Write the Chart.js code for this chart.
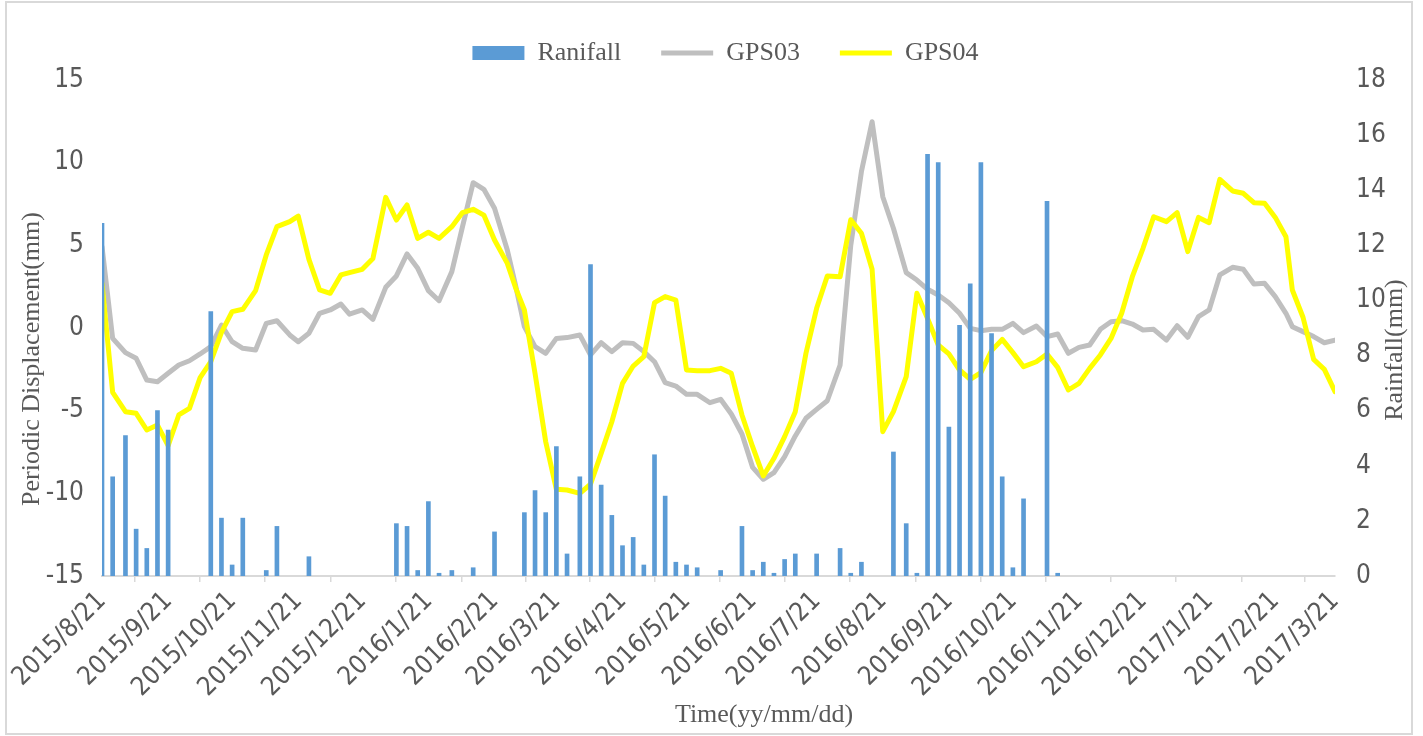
<!DOCTYPE html>
<html>
<head>
<meta charset="utf-8">
<title>Periodic displacement and rainfall</title>
<script src="https://cdn.jsdelivr.net/npm/chart.js@4.4.0/dist/chart.umd.min.js"></script>
<style>
  html, body { margin: 0; padding: 0; background: #fff; }
  #wrap { width: 1423px; height: 736px; position: relative; }
</style>
</head>
<body>
<div id="wrap"><canvas id="chart"></canvas></div>
<script>
// Data

const tickLabels = ['2015/8/21', '2015/9/21', '2015/10/21', '2015/11/21', '2015/12/21',
  '2016/1/21', '2016/2/21', '2016/3/21', '2016/4/21', '2016/5/21', '2016/6/21',
  '2016/7/21', '2016/8/21', '2016/9/21', '2016/10/21', '2016/11/21', '2016/12/21',
  '2017/1/21', '2017/2/21', '2017/3/21'];

// days after 2015/8/21 for each sample
const days = [
  0, 5, 11, 16, 21, 26, 31, 36, 41, 46,
  51, 56, 61, 66, 72, 77, 82, 88, 92, 97,
  102, 107, 112, 116, 122, 127, 133, 138, 143, 148,
  153, 158, 164, 169, 174, 179, 184, 190, 194, 198,
  203, 208, 213, 218, 224, 229, 234, 239, 244, 249,
  254, 259, 264, 269, 274, 279, 285, 290, 295, 300,
  305, 310, 315, 320, 325, 330, 335, 340, 346, 351,
  356, 361, 366, 371, 377, 382, 387, 392, 397, 402,
  407, 412, 417, 422, 427, 432, 438, 443, 448, 453,
  458, 463, 468, 473, 478, 483, 488, 493, 499, 504,
  509, 514, 519, 524, 530, 535, 540, 545, 550, 555,
  558, 563, 568, 573, 578
];

const rainfall = [
  12.8, 3.6, 5.1, 1.7, 1.0, 6.0, 5.3, 0, 0, 0,
  9.6, 2.1, 0.4, 2.1, 0, 0.2, 1.8, 0, 0, 0.7,
  0, 0, 0, 0, 0, 0, 0, 1.9, 1.8, 0.2,
  2.7, 0.1, 0.2, 0, 0.3, 0, 1.6, 0, 0, 2.3,
  3.1, 2.3, 4.7, 0.8, 3.6, 11.3, 3.3, 2.2, 1.1, 1.4,
  0.4, 4.4, 2.9, 0.5, 0.4, 0.3, 0, 0.2, 0, 1.8,
  0.2, 0.5, 0.1, 0.6, 0.8, 0, 0.8, 0, 1.0, 0.1,
  0.5, 0, 0, 4.5, 1.9, 0.1, 15.3, 15.0, 5.4, 9.1,
  10.6, 15.0, 8.8, 3.6, 0.3, 2.8, 0, 13.6, 0.1, 0,
  0, 0, 0, 0, 0, 0, 0, 0, 0, 0,
  0, 0, 0, 0, 0, 0, 0, 0, 0, 0,
  0, 0, 0, 0, 0
];

const gps03 = [
  4.92, -0.63, -1.49, -1.83, -3.15, -3.25, -2.74, -2.24, -1.98, -1.57,
  -1.13, 0.18, -0.83, -1.23, -1.33, 0.28, 0.44, -0.42, -0.83, -0.32,
  0.89, 1.09, 1.45, 0.84, 1.09, 0.52, 2.46, 3.15, 4.48, 3.61,
  2.26, 1.65, 3.41, 6.13, 8.79, 8.39, 7.24, 4.72, 2.50, 0.08,
  -1.13, -1.53, -0.63, -0.58, -0.42, -1.63, -0.89, -1.43, -0.89, -0.93,
  -1.43, -2.04, -3.31, -3.51, -4.01, -4.01, -4.52, -4.31, -5.20, -6.41,
  -8.43, -9.15, -8.75, -7.78, -6.53, -5.46, -4.92, -4.40, -2.24, 5.0,
  9.46, 12.48, 7.94, 6.03, 3.35, 2.90, 2.34, 2.00, 1.53, 0.89,
  -0.02, -0.16, -0.08, -0.08, 0.28, -0.28, 0.12, -0.52, -0.36, -1.53,
  -1.17, -1.03, -0.08, 0.38, 0.44, 0.24, -0.12, -0.08, -0.73, 0.14,
  -0.56, 0.69, 1.09, 3.21, 3.67, 3.55, 2.66, 2.70, 1.90, 0.89,
  0.08, -0.22, -0.52, -0.89, -0.73
];

const gps04 = [
  2.70, -3.89, -5.06, -5.16, -6.17, -5.87, -7.12, -5.26, -4.86, -3.00,
  -2.04, -0.26, 0.99, 1.13, 2.26, 4.42, 6.13, 6.43, 6.77, 4.15,
  2.30, 2.10, 3.21, 3.35, 3.55, 4.21, 7.90, 6.53, 7.44, 5.42,
  5.79, 5.42, 6.13, 6.98, 7.18, 6.83, 5.32, 3.91, 2.40, 1.09,
  -2.74, -6.88, -9.76, -9.80, -10.0, -9.45, -7.58, -5.67, -3.35, -2.30,
  -1.73, 1.53, 1.90, 1.69, -2.54, -2.58, -2.58, -2.44, -2.74, -5.26,
  -7.18, -8.95, -7.88, -6.57, -5.06, -1.53, 1.19, 3.15, 3.10, 6.55,
  5.73, 3.55, -6.27, -5.06, -2.94, 2.10, 0.58, -1.03, -1.57, -2.54,
  -3.10, -2.70, -1.37, -0.69, -1.49, -2.34, -2.04, -1.57, -2.38, -3.75,
  -3.35, -2.44, -1.63, -0.63, 0.89, 3.10, 4.82, 6.73, 6.43, 6.98,
  4.62, 6.69, 6.37, 8.99, 8.29, 8.15, 7.58, 7.54, 6.69, 5.52,
  2.30, 0.65, -1.90, -2.50, -3.85
];

// Tick positions (days after the first label)

const dayMs = 86400000;
const toTime = (s) => {
  const p = s.split('/').map(Number);
  return Date.UTC(p[0], p[1] - 1, p[2]);
};
const startTime = toTime(tickLabels[0]);
const tickDays = tickLabels.map(s => Math.round((toTime(s) - startTime) / dayMs));

// Fonts

const grey = '#595959';
const tickFont = {
  family: "'Liberation Sans Narrow', 'DejaVu Sans Condensed', 'Roboto Condensed', 'Liberation Sans', sans-serif",
  size: 26
};
const serifFamily = "'Liberation Serif', 'Times New Roman', serif";
const serifFont = { family: serifFamily, size: 26 };

// Plugins

const frame = {
  id: 'frame',
  beforeDraw(chart) {
    const ctx = chart.ctx;
    ctx.save();
    ctx.strokeStyle = '#d9d9d9';
    ctx.lineWidth = 2;
    ctx.strokeRect(6, 2, 1406, 732);
    ctx.restore();
  }
};

// legend: fixed height and a small nudge to the right
const legendBox = {
  id: 'legendBox',
  beforeLayout(chart) {
    const lg = chart.legend;
    if (lg && !lg._fixed) {
      const fit = lg.fit;
      lg.fit = function () {
        fit.call(this);
        this.height = 80;
      };
      lg._fixed = true;
    }
  },
  afterLayout(chart) {
    chart.legend.left += 14;
    chart.legend.right += 14;
  }
};

const axisTitles = {
  id: 'axisTitles',
  afterDraw(chart) {
    const ctx = chart.ctx;
    ctx.save();
    ctx.font = '26px ' + serifFamily;
    ctx.fillStyle = grey;
    ctx.textAlign = 'center';
    ctx.textBaseline = 'middle';

    ctx.fillText('Time(yy/mm/dd)', 764, 715);

    ctx.save();
    ctx.translate(32, 359);
    ctx.rotate(-Math.PI / 2);
    ctx.fillText('Periodic Displacement(mm)', 0, 0);
    ctx.restore();

    ctx.save();
    ctx.translate(1395, 350);
    ctx.rotate(-Math.PI / 2);
    ctx.fillText('Rainfall(mm)', 0, 0);
    ctx.restore();

    ctx.restore();
  }
};

// Chart

const rainPoints = days
  .map((d, i) => ({ x: d, y: rainfall[i] }))
  .filter(p => p.y > 0);

const ctx = document.querySelector('#chart');

const chart = new Chart(ctx, {
  type: 'line',
  data: {
    datasets: [{
      type: 'bar',
      label: 'Ranifall',
      data: rainPoints,
      backgroundColor: '#5b9bd5',
      borderWidth: 0,
      barThickness: 4,
      pointStyle: 'rect',
      yAxisID: 'y1',
      order: 0
    }, {
      label: 'GPS03',
      data: days.map((d, i) => ({ x: d, y: gps03[i] })),
      borderColor: '#bfbfbf',
      backgroundColor: '#bfbfbf',
      borderWidth: 5,
      borderCapStyle: 'round',
      borderJoinStyle: 'round',
      pointRadius: 0,
      pointStyle: 'line',
      tension: 0,
      yAxisID: 'y',
      order: 2
    }, {
      label: 'GPS04',
      data: days.map((d, i) => ({ x: d, y: gps04[i] })),
      borderColor: '#ffff00',
      backgroundColor: '#ffff00',
      borderWidth: 5,
      borderCapStyle: 'round',
      borderJoinStyle: 'round',
      pointRadius: 0,
      pointStyle: 'line',
      tension: 0,
      yAxisID: 'y',
      order: 1
    }]
  },
  options: {
    responsive: true,
    maintainAspectRatio: false,
    animation: false,
    devicePixelRatio: 1,
    events: [],
    layout: { padding: 0 },
    scales: {
      x: {
        type: 'linear',
        position: 'bottom',
        min: 0,
        max: tickDays[tickDays.length - 1],
        offset: false,
        grid: {
          display: true,
          drawOnChartArea: false,
          drawTicks: true,
          tickLength: 6,
          color: '#d9d9d9',
          lineWidth: 1.5
        },
        border: { display: true, color: '#d9d9d9', width: 2 },
        ticks: {
          autoSkip: false,
          minRotation: 45,
          maxRotation: 45,
          padding: 4,
          font: tickFont,
          color: grey,
          callback: (value) => {
            const i = tickDays.indexOf(value);
            return i >= 0 ? tickLabels[i] : '';
          }
        },
        afterBuildTicks: (scale) => {
          scale.ticks = tickDays.map(v => ({ value: v }));
        },
        afterFit: (scale) => { scale.height = 160; }
      },
      y: {
        position: 'left',
        min: -15,
        max: 15,
        grid: { display: false, drawTicks: false },
        border: { display: false },
        ticks: { stepSize: 5, padding: 18, font: tickFont, color: grey },
        afterFit: (scale) => { scale.width = 102; }
      },
      y1: {
        position: 'right',
        min: 0,
        max: 18,
        grid: { display: false, drawTicks: false },
        border: { display: false },
        ticks: { stepSize: 2, padding: 21, font: tickFont, color: grey },
        afterFit: (scale) => { scale.width = 88; }
      }
    },
    plugins: {
      legend: {
        position: 'top',
        labels: {
          usePointStyle: true,
          pointStyleWidth: 52,
          boxHeight: 14,
          padding: 40,
          color: grey,
          font: serifFont,
          sort: (a, b) => a.datasetIndex - b.datasetIndex
        }
      },
      tooltip: { enabled: false }
    }
  },
  plugins: [frame, legendBox, axisTitles]
});
</script>
</body>
</html>
